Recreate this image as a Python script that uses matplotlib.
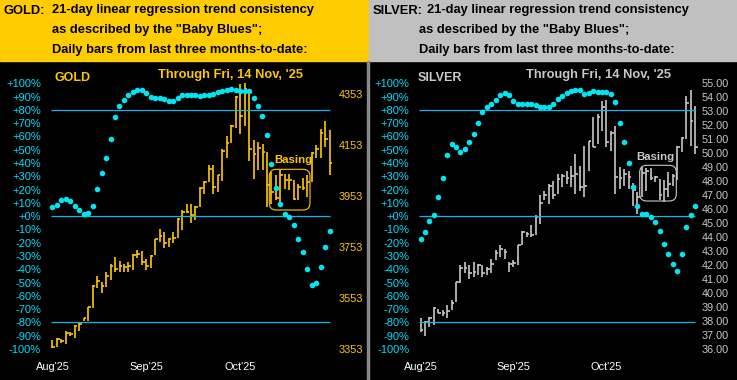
import matplotlib
matplotlib.use('Agg')
import numpy as np
import matplotlib.pyplot as plt
from matplotlib.patches import Rectangle, FancyBboxPatch

plt.rcParams['font.family'] = ['Liberation Sans', 'DejaVu Sans']

W, H = 737, 380

months = ["Aug'25", "Sep'25", "Oct'25"]
month_pos = [0, 21, 42]
pct_ticks = list(range(-100, 101, 10))

# gold daily bars (high / low / close)
gold_high = [3388, 3397, 3392, 3424, 3418, 3447, 3454, 3476, 3517, 3604,
             3639, 3617, 3656, 3686, 3715, 3698, 3685, 3693, 3726, 3741,
             3737, 3706, 3722, 3783, 3824, 3813, 3787, 3813, 3866, 3898,
             3921, 3921, 3914, 3990, 4012, 4077, 4075, 4038, 4137, 4188,
             4234, 4346, 4392, 4396, 4373, 4173, 4166, 4156, 4127, 4048,
             4035, 4055, 4042, 4042, 4016, 3999, 4025, 4035, 4127, 4153,
             4216, 4247, 4212]
gold_low = [3357, 3362, 3377, 3373, 3405, 3395, 3424, 3463, 3464, 3513,
            3591, 3571, 3597, 3624, 3656, 3656, 3656, 3656, 3663, 3709,
            3682, 3663, 3670, 3722, 3774, 3750, 3754, 3768, 3787, 3820,
            3885, 3846, 3859, 3911, 3961, 4009, 3960, 3970, 4012, 4103,
            4160, 4219, 4199, 4230, 4090, 4022, 4055, 4055, 3911, 3924,
            3937, 3924, 3983, 3977, 3937, 3937, 3977, 3950, 4007, 4103,
            4103, 4146, 4035]
gold_close = [3361, 3394, 3386, 3417, 3413, 3444, 3452, 3475, 3516, 3601,
              3620, 3601, 3640, 3680, 3667, 3680, 3673, 3680, 3722, 3726,
              3695, 3680, 3719, 3783, 3797, 3770, 3784, 3790, 3863, 3889,
              3892, 3881, 3911, 3986, 4009, 4059, 3990, 4038, 4131, 4160,
              4228, 4343, 4269, 4373, 4137, 4118, 4142, 4127, 3996, 3970,
              3944, 4038, 4016, 4016, 3941, 3990, 3986, 4009, 4124, 4137,
              4203, 4177, 4084]
gold_blues = [7.0, 8.3, 12.0, 12.8, 11.3, 7.5, 4.5, 1.5, 2.5, 7.5,
              20.3, 32.3, 43.6, 57.9, 74.4, 82.7, 87.2, 91.5, 93.5, 94.7,
              94.7, 92.7, 89.3, 89.0, 89.0, 88.0, 86.7, 86.7, 89.0, 91.5,
              91.5, 91.5, 91.0, 90.5, 91.0, 91.5, 92.3, 93.5, 94.0, 94.7,
              95.5, 94.7, 94.2, 94.2, 94.2, 89.0, 82.9, 75.4, 61.4, 39.6,
              21.3, 9.0, 1.5, -0.5, -6.8, -17.3, -26.8, -39.9, -51.9, -50.2,
              -38.1, -23.1, -11.1]
gold_ticks = [3353, 3553, 3753, 3953, 4153, 4353]

# silver daily bars
silver_high = [38.19, 38.00, 38.26, 39.01, 38.83, 38.78, 39.14, 39.49, 40.80, 41.99,
               42.22, 41.99, 42.22, 42.11, 41.99, 41.87, 42.46, 43.06, 43.41, 43.18,
               42.22, 42.34, 43.41, 44.43, 44.36, 44.84, 45.55, 46.98, 47.33, 47.81,
               48.00, 48.52, 48.52, 48.76, 49.11, 49.95, 49.11, 50.54, 50.90, 52.56,
               52.80, 53.75, 53.80, 51.61, 51.97, 48.99, 48.88, 48.76, 47.90, 47.19,
               48.99, 48.92, 48.95, 48.40, 48.17, 48.05, 48.64, 48.52, 50.54, 51.18,
               54.10, 54.53, 53.39]
silver_low = [37.23, 36.93, 37.55, 37.71, 38.54, 38.35, 38.19, 38.78, 39.37, 40.73,
              41.40, 41.04, 41.15, 41.27, 41.15, 41.27, 41.40, 42.34, 42.58, 42.46,
              41.51, 41.87, 41.99, 43.41, 44.00, 44.00, 44.13, 44.96, 46.62, 46.38,
              46.74, 47.10, 47.57, 47.81, 47.57, 47.10, 47.33, 46.86, 48.76, 50.42,
              50.66, 51.61, 50.42, 50.18, 47.10, 47.45, 47.69, 47.45, 46.19, 45.62,
              46.86, 47.33, 48.05, 47.92, 46.67, 46.50, 46.86, 47.69, 48.05, 50.06,
              51.04, 50.54, 49.97]
silver_close = [37.35, 37.95, 38.19, 38.90, 38.59, 38.54, 38.73, 39.26, 40.80, 41.82,
                41.82, 41.40, 41.51, 41.99, 41.40, 41.75, 42.11, 42.86, 43.18, 42.94,
                42.11, 42.15, 43.41, 44.36, 44.25, 44.18, 45.43, 46.43, 46.98, 47.62,
                46.98, 48.17, 48.40, 48.24, 48.40, 48.52, 47.57, 47.62, 50.85, 50.47,
                52.61, 53.27, 50.83, 51.42, 48.28, 48.24, 48.52, 48.33, 47.40, 46.86,
                48.62, 48.76, 48.24, 48.28, 46.98, 47.45, 47.81, 48.40, 50.42, 51.09,
                53.60, 52.32, 50.43]
silver_blues = [-17.3, -12.0, -3.8, 0.8, 14.5, 28.8, 45.9, 54.1, 52.1, 48.4,
                50.4, 55.9, 61.7, 70.2, 78.4, 82.2, 84.2, 87.2, 91.0, 92.7,
                91.5, 86.7, 84.7, 84.7, 84.7, 84.2, 84.0, 82.2, 82.2, 82.2,
                84.7, 88.0, 90.2, 93.0, 94.0, 95.3, 94.7, 92.3, 93.0, 94.0,
                93.5, 93.5, 93.5, 92.3, 85.9, 70.2, 55.9, 40.1, 22.0, 7.7,
                1.9, 1.3, -0.5, -4.5, -11.3, -20.8, -28.3, -35.9, -41.1, -28.3,
                -8.0, 1.0, 7.7]
silver_ticks = [36, 37, 38, 39, 40, 41, 42, 43, 44, 45, 46, 47, 48, 49, 50, 51, 52, 53, 54, 55]

header1 = "21-day linear regression trend consistency"
header2 = 'as described by the "Baby Blues";'
header3 = "Daily bars from last three months-to-date:"
through = "Through Fri, 14 Nov, '25"

BLUE_LINE = '#12B6EC'
BLUE_DOT = '#00E6F0'
BLUE_TXT = '#00DDFF'
GOLD_INK = '#FFC800'
SILVER_INK = '#C8C8C8'

fig = plt.figure(figsize=(W / 100, H / 100), dpi=100)
fig.patch.set_facecolor('black')


def ptext(x, y, s, **kw):
    # pixel position, y measured from top, baseline anchored
    fig.text(x / W, 1 - y / H, s, va='baseline', ha='left', **kw)


def panel(hx0, hx1, hdr_bg, label, name_x, line1_x, lines_x, ink, ax_x, ax_w,
          high, low, close, blues, p_m100, p_p100, pticks, pfmt, ppad,
          inner_x, through_x, box, basing_x, basing_y):
    fig.add_artist(Rectangle((hx0 / W, 1 - 61 / H), (hx1 - hx0) / W, 61 / H,
                             transform=fig.transFigure, color=hdr_bg, zorder=0))
    hkw = dict(fontsize=9.3, fontweight='bold', color='black')
    ptext(name_x, 13.5, label + ':', **hkw)
    ptext(line1_x, 13.5, header1, **hkw)
    ptext(lines_x, 33.5, header2, **hkw)
    ptext(lines_x, 53.3, header3, **hkw)

    top, bot = 70, 362
    axp = fig.add_axes([ax_x / W, 1 - bot / H, ax_w / W, (bot - top) / H])
    axp.set_facecolor('black')
    axb = axp.twinx()
    ylo, yhi = -109.8, 110.0
    axb.set_ylim(ylo, yhi)
    axp.set_ylim(p_m100 + (ylo + 100) / 200 * (p_p100 - p_m100),
                 p_m100 + (yhi + 100) / 200 * (p_p100 - p_m100))
    axp.set_xlim(-1, 63)

    idx = np.arange(len(close))
    axp.vlines(idx, low, high, color=ink, lw=1.2)
    axp.hlines(close, idx, idx + 0.6, color=ink, lw=1.2)

    axb.hlines([80, 0, -80], -0.3, 62.0, color=BLUE_LINE, lw=0.9, zorder=2)
    axb.plot(idx, blues, 'o', ms=4.0, color=BLUE_DOT, mec='none', zorder=5)

    axb.yaxis.tick_left()
    axp.yaxis.tick_right()
    axb.set_yticks(pct_ticks)
    axb.set_yticklabels([f'{v:+d}%' for v in pct_ticks])
    axb.tick_params(axis='y', length=0, pad=5, labelsize=8, labelcolor=BLUE_TXT)
    axp.set_yticks(pticks)
    axp.set_yticklabels([pfmt.format(v) for v in pticks])
    axp.tick_params(axis='y', length=0, pad=ppad, labelsize=7.8, labelcolor=ink)
    axp.set_xticks(month_pos)
    axp.set_xticklabels(months)
    axp.tick_params(axis='x', length=0, pad=0, labelsize=7.9, labelcolor='white')
    for a in (axp, axb):
        for sp in a.spines.values():
            sp.set_visible(False)

    ptext(inner_x, 80.7, label, fontsize=9, fontweight='bold', color=ink)
    ptext(through_x, 77.7, through, fontsize=9.3, fontweight='bold', color=ink)
    ptext(basing_x, basing_y, 'Basing', fontsize=8.2, fontweight='bold', color=ink)
    x0, y0, x1, y1 = box
    fig.add_artist(FancyBboxPatch((x0 / 100, (H - y1) / 100), (x1 - x0) / 100, (y1 - y0) / 100,
                                  boxstyle='round,pad=0,rounding_size=0.07',
                                  transform=fig.dpi_scale_trans, fill=False,
                                  ec=ink, lw=0.8, zorder=3))


panel(0, 368, '#FFCC00', 'GOLD', 4, 52, 52, GOLD_INK, 48.0, 286.0,
      gold_high, gold_low, gold_close, gold_blues, 3353, 4396.3, gold_ticks, '{:d}', 3.6,
      55, 158, (269.3, 169.3, 310, 210), 274, 163.3)
panel(369, 737, '#C0C0C0', 'SILVER', 373, 427, 419, SILVER_INK, 416.1, 283.3,
      silver_high, silver_low, silver_close, silver_blues, 36.0, 55.0, silver_ticks, '{:.2f}', 1.9,
      418, 526, (639.7, 165.3, 676.3, 201), 636, 160)

# divider between the two panels
fig.add_artist(Rectangle((366.5 / W, 0), 2.5 / W, 1 - 61 / H, transform=fig.transFigure,
                         color='#8a8a8a', zorder=4))

fig.savefig('out.png', dpi=100, facecolor='black')
